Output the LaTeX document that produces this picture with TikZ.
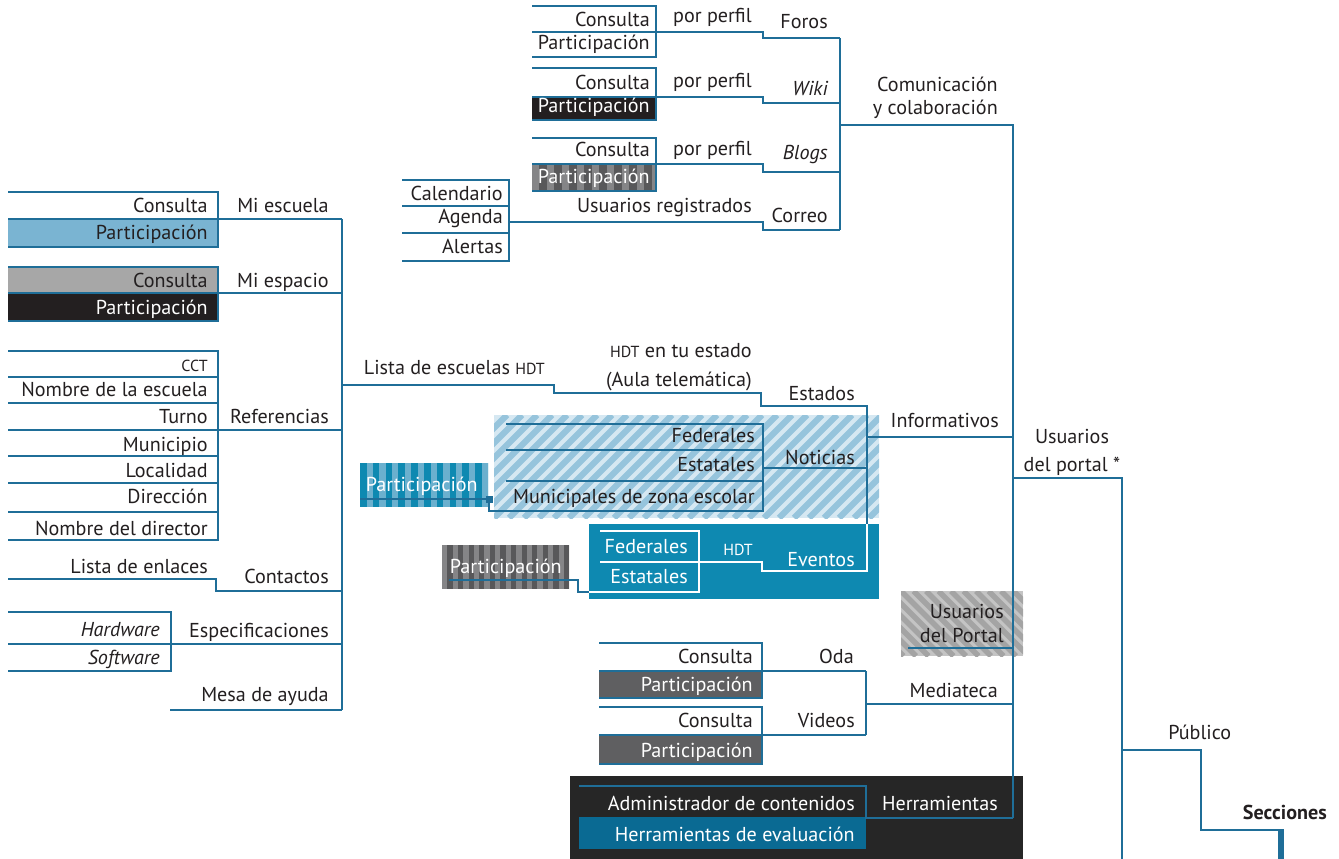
\documentclass[tikz,border=0pt]{standalone}
\usepackage{fontspec}
\setmainfont{PT Sans}
\definecolor{lineblue}{HTML}{1F6E98}
\definecolor{ink}{HTML}{231F20}
\definecolor{skyblue}{HTML}{7AB4D2}
\definecolor{midgray}{HTML}{A7A7A7}
\definecolor{nearblack}{HTML}{231F20}
\definecolor{slategray}{HTML}{5F5F61}
\definecolor{stripedark}{HTML}{58585A}
\definecolor{stripelight}{HTML}{858587}
\definecolor{evblue}{HTML}{0E89B1}
\definecolor{evaldark}{HTML}{0A6A93}
\definecolor{paleblue}{HTML}{D6E8F2}
\definecolor{hatchblue}{HTML}{96C4DC}
\definecolor{partblue}{HTML}{0E89B1}
\definecolor{partlight}{HTML}{6BB0CE}
\definecolor{toolbg}{HTML}{262626}
\definecolor{portallight}{HTML}{C4C4C4}
\definecolor{portaldark}{HTML}{A4A4A4}
\newcommand\lblfont{\fontsize{15.1}{18}\selectfont}
\newcommand\smc[1]{{\fontsize{12}{14}\selectfont #1}}
% vertical stripes: x0 y0 x1 y1 base light period width
\newcommand\stripebox[8]{%
  \fill[#5] (#1,#2) rectangle (#3,#4);
  \begin{scope}
    \clip (#1,#2) rectangle (#3,#4);
    \foreach \k in {0,...,20} \fill[#6] ({#1+\k*#7},#2) rectangle ({#1+\k*#7+#8},#4);
  \end{scope}}
\begin{document}
\begin{tikzpicture}[x=0.75pt,y=-0.75pt,
  ln/.style={draw=lineblue, line width=1.1pt},
  wln/.style={draw=white, line width=1.1pt},
  lbl/.style={font=\lblfont, text=ink, inner sep=0pt, anchor=base east},
  wlbl/.style={lbl, text=white},
  clbl/.style={lbl, anchor=base},
]
\useasboundingbox (0,0) rectangle (1339,859);

% ---------- filled backgrounds ----------
\fill[nearblack] (532,97) rectangle (656,120);
\stripebox{532}{164}{656}{191}{stripedark}{stripelight}{15}{7}
\fill[skyblue] (8,219) rectangle (218,247);
\fill[midgray] (8,267) rectangle (218,293);
\fill[nearblack] (8,293) rectangle (218,321);

% hatched "Noticias" panel
\fill[paleblue] (494,415) rectangle (879,518);
\begin{scope}
  \clip (494,415) rectangle (879,518);
  \foreach \k in {-8,...,27} \draw[hatchblue, line width=4.6pt] ({494+\k*15},518) -- ({597+\k*15},415);
\end{scope}
\stripebox{360}{463}{488}{507}{partlight}{partblue}{12.8}{6.6}

% "Eventos" panel
\fill[evblue] (589,524) rectangle (879,599);
\stripebox{442}{545}{569}{589}{stripedark}{stripelight}{10.6}{5.3}

% "Usuarios del Portal" panel
\fill[portallight] (901,591) rectangle (1023,656);
\begin{scope}
  \clip (901,591) rectangle (1023,656);
  \foreach \k in {-7,...,11} \draw[portaldark, line width=4pt] ({901+\k*12.5},591) -- ({966+\k*12.5},656);
\end{scope}

\fill[slategray] (599,671) rectangle (762,698);
\fill[slategray] (599,735) rectangle (762,764);

% "Herramientas" panel
\fill[toolbg] (570,776) rectangle (1023,859);
\fill[evaldark] (579,817) rectangle (866,849);

% ---------- junction coordinates ----------
\coordinate (comm) at (840,125);
\coordinate (trunkTop) at (1013,125);
\coordinate (trunkBot) at (1013,818);
\coordinate (users) at (1013,478);
\coordinate (usersR) at (1122,478);
\coordinate (pub) at (1122,750);
\coordinate (info) at (867,437);
\coordinate (lista) at (342,385);
\coordinate (leftTop) at (342,219);
\coordinate (leftBot) at (342,710);

% ---------- Comunicación y colaboración ----------
\draw[ln] (532,6) -- (656,6) -- (656,57) -- (532,57);
\draw[ln] (532,32) -- (763,32) -- (763,38) -- (840,38);
\draw[ln] (532,68) -- (656,68) -- (656,120) -- (532,120);
\draw[ln] (532,97) -- (763,97) -- (763,103) -- (840,103);
\draw[ln] (532,138) -- (656,138) -- (656,191) -- (532,191);
\draw[ln] (532,164) -- (763,164) -- (763,172) -- (840,172);
\draw[ln] (402,180) -- (509,180) -- (509,261) -- (402,261);
\draw[ln] (402,206) -- (509,206) (402,233) -- (509,233);
\draw[ln] (509,222) -- (763,222) -- (763,230) -- (840,230);
\draw[ln] (840,38) -- (840,230);
\draw[ln] (comm) -- (trunkTop) -- (trunkBot);

% ---------- right-hand steps ----------
\draw[ln] (users) -- (usersR) -- (1122,859);
\draw[draw=lineblue, line width=2pt] (pub) -- (1201,750) -- (1201,830) -- (1283,830);
\draw[draw=lineblue, line width=3.8pt] (1281,829) -- (1281,859);

% ---------- left tree ----------
\draw[ln] (8,192) -- (218,192) -- (218,247) -- (8,247);
\draw[ln] (8,219) -- (leftTop);
\draw[ln] (8,267) -- (218,267) -- (218,321) -- (8,321);
\draw[ln] (8,293) -- (342,293);
\draw[ln] (8,351) -- (218,351) -- (218,540) -- (8,540);
\foreach \yy in {377,403,456,483,512} \draw[ln] (8,\yy) -- (218,\yy);
\draw[ln] (8,430) -- (342,430);
\draw[ln] (8,579) -- (216,579) -- (216,591) -- (342,591);
\draw[ln] (8,612) -- (171,612) -- (171,671) -- (8,671);
\draw[ln] (8,644) -- (342,644);
\draw[ln] (170,710) -- (leftBot);
\draw[ln] (leftTop) -- (leftBot);

% ---------- Informativos ----------
\draw[ln] (lista) -- (554,385) -- (554,393) -- (761,393) -- (761,406) -- (867,406) -- (867,571);
\draw[ln] (info) -- (1013,437);
\draw[ln] (506,424) -- (763,424) -- (763,511) -- (506,511);
\draw[ln] (506,450) -- (763,450) (506,481) -- (763,481);
\draw[ln] (763,468) -- (867,468);
\draw[ln] (360,499) -- (489,499) -- (489,511) -- (506,511);
\fill[lineblue] (485.5,495.5) rectangle (492.5,502.5);
\draw[ln] (449,580) -- (578,580) -- (578,592) -- (589,592);
\draw[wln] (589,592) -- (699,592) -- (699,531) -- (600,531);
\draw[wln] (600,562) -- (762,562) -- (762,571) -- (867,571) -- (867,524);

% ---------- Usuarios del Portal / Mediateca ----------
\draw[ln] (908,648) -- (1013,648);
\draw[ln] (599,643) -- (762,643) -- (762,698) -- (599,698);
\draw[ln] (599,671) -- (866,671);
\draw[ln] (599,707) -- (762,707) -- (762,764) -- (599,764);
\draw[ln] (599,735) -- (866,735);
\draw[ln] (866,671) -- (866,735);
\draw[ln] (866,704) -- (1013,704);

% ---------- Herramientas ----------
\draw[ln] (579,786) -- (866,786) -- (866,818) -- (trunkBot);

% ---------- labels: top ----------
\node[lbl] (fc) at (650,27) {Consulta};
\node[lbl] (fp) at (650,50) {Participación};
\node[lbl] (fpp) at (752,23) {por perfil};
\node[lbl] (foros) at (828,29) {Foros};
\node[lbl] (wc) at (650,90) {Consulta};
\node[wlbl] (wp) at (650,113) {Participación};
\node[lbl] (wpp) at (752,88) {por perfil};
\node[lbl] (wiki) at (828,96) {\itshape Wiki};
\node[lbl] (bc) at (650,157) {Consulta};
\node[wlbl] (bp) at (650,184) {Participación};
\node[lbl] (bpp) at (752,156) {por perfil};
\node[lbl] (blogs) at (828,160) {\itshape Blogs};
\node[lbl] (ureg) at (752,213) {Usuarios registrados};
\node[lbl] (correo) at (828,223) {Correo};
\node[lbl] (cal) at (503,201) {Calendario};
\node[lbl] (age) at (503,224) {Agenda};
\node[lbl] (ale) at (503,254) {Alertas};
\node[lbl] (com1) at (998,92) {Comunicación};
\node[lbl] (com2) at (998,115) {y colaboración};

% ---------- labels: left ----------
\node[lbl] (ec) at (208,213) {Consulta};
\node[lbl] (ep) at (208,240) {Participación};
\node[lbl] (mesc) at (329,213) {Mi escuela};
\node[lbl] (sc) at (208,288) {Consulta};
\node[wlbl] (sp) at (208,315) {Participación};
\node[lbl] (mesp) at (329,288) {Mi espacio};
\node[lbl] (cct) at (208,371) {\smc{CCT}};
\node[lbl] (nesc) at (208,397) {Nombre de la escuela};
\node[lbl] (turno) at (208,423) {Turno};
\node[lbl] (refs) at (329,423) {Referencias};
\node[lbl] (mun) at (208,451) {Municipio};
\node[lbl] (loc) at (208,477) {Localidad};
\node[lbl] (dir) at (208,503) {Dirección};
\node[lbl] (ndir) at (208,535) {Nombre del director};
\node[lbl] (lenl) at (208,573) {Lista de enlaces};
\node[lbl] (cont) at (329,583) {Contactos};
\node[lbl] (hw) at (160,636) {\itshape Hardware};
\node[lbl] (sw) at (160,664) {\itshape Software};
\node[lbl] (spec) at (329,637) {Especificaciones};
\node[lbl] (mesa) at (329,701) {Mesa de ayuda};

% ---------- labels: middle ----------
\node[lbl] (lesc) at (545,374) {Lista de escuelas \smc{HDT}};
\node[lbl] (hdte) at (752,358) {\smc{HDT} en tu estado};
\node[lbl] (aula) at (752,387) {(Aula telemática)};
\node[lbl] (estados) at (855,400) {Estados};
\node[lbl] (nfed) at (755,442) {Federales};
\node[lbl] (nest) at (755,471) {Estatales};
\node[lbl] (nmun) at (755,503) {Municipales de zona escolar};
\node[lbl] (noticias) at (855,464) {Noticias};
\node[wlbl] (npart) at (478,491) {Participación};
\node[lbl] (informativos) at (999,427) {Informativos};
\node[wlbl] (efed) at (688,553) {Federales};
\node[wlbl] (eest) at (688,583) {Estatales};
\node[wlbl] (ehdt) at (753,555) {\smc{HDT}};
\node[wlbl] (eventos) at (855,566) {Eventos};
\node[wlbl] (epart) at (562,573) {Participación};
\node[lbl] (up1) at (1004,618) {Usuarios};
\node[lbl] (up2) at (1004,642) {del Portal};
\node[lbl] (oc) at (753,663) {Consulta};
\node[wlbl] (op) at (753,691) {Participación};
\node[lbl] (oda) at (854,663) {Oda};
\node[lbl] (vc) at (753,727) {Consulta};
\node[wlbl] (vp) at (753,757) {Participación};
\node[lbl] (videos) at (855,727) {Videos};
\node[lbl] (mediateca) at (998,697) {Mediateca};
\node[wlbl] (admin) at (855,810) {Administrador de contenidos};
\node[wlbl] (heval) at (855,841) {Herramientas de evaluación};
\node[wlbl] (herr) at (998,810) {Herramientas};

% ---------- labels: right ----------
\node[clbl] (usr1) at (1072,443) {Usuarios};
\node[clbl] (usr2) at (1072,471) {del portal *};
\node[lbl, anchor=base west] (publico) at (1168,739) {Público};
\node[lbl] (secciones) at (1327,819) {\bfseries Secciones};
\end{tikzpicture}
\end{document}
